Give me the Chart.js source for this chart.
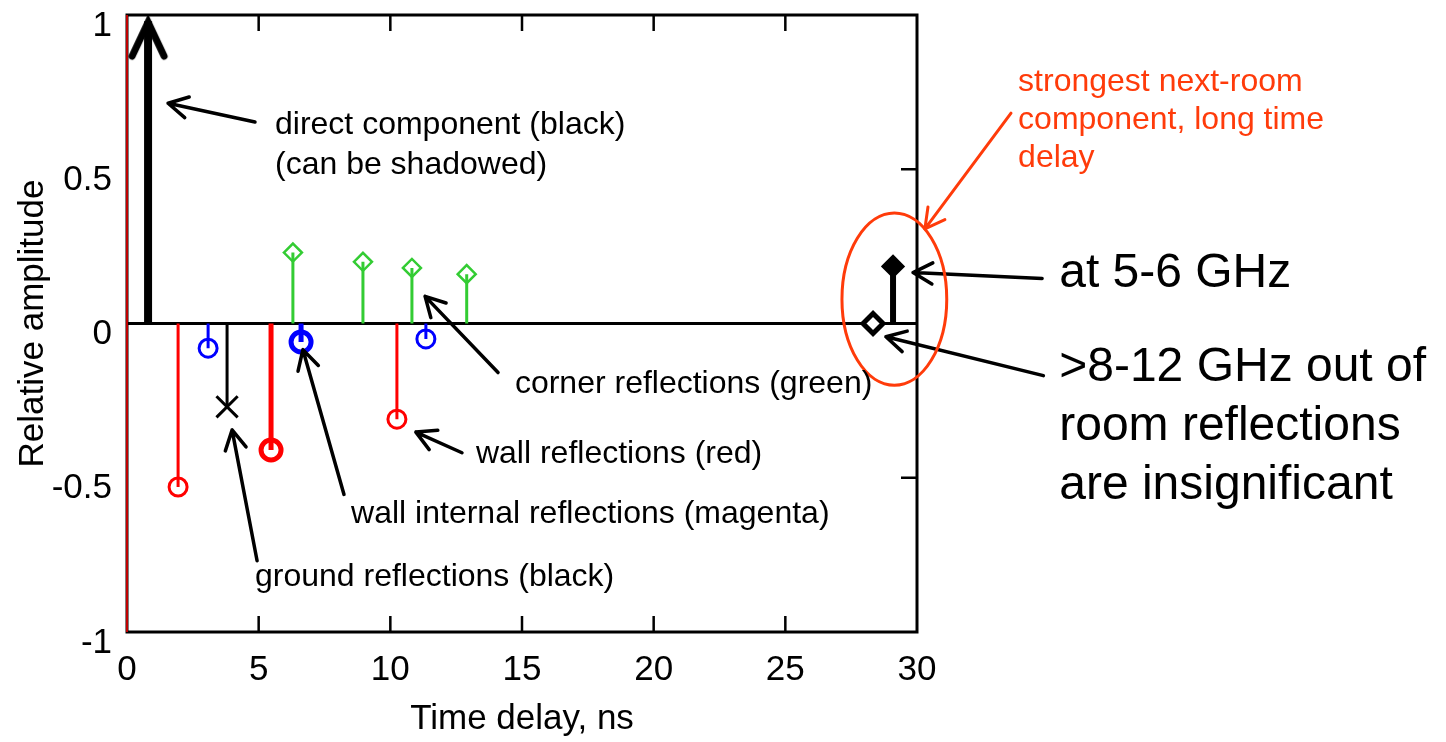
<!DOCTYPE html>
<html>
<head>
<meta charset="utf-8">
<script src="https://cdn.jsdelivr.net/npm/chart.js@4.4.1/dist/chart.umd.min.js"></script>
<style>
  html, body { margin: 0; background: #fff; }
  #wrap { width: 1446px; height: 742px; }
</style>
</head>
<body>
<div id="wrap"><canvas id="grafica"></canvas></div>
<script>
// tick values and labels
const xTicks = [0, 5, 10, 15, 20, 25, 30];
const yTicks = [-1, -0.5, 0, 0.5, 1];
const yTickLabels = ['-1', '-0.5', '0', '0.5', '1'];

// impulse response components (time delay ns, relative amplitude)
const directX = [0.8];
const directY = [0.98];
const wallX = [1.94, 10.25];
const wallY = [-0.53, -0.31];
const wallStrongX = [5.47];
const wallStrongY = [-0.41];
const internalX = [3.08, 11.35];
const internalY = [-0.08, -0.05];
const internalStrongX = [6.61];
const internalStrongY = [-0.06];
const groundX = [3.8];
const groundY = [-0.27];
const cornerX = [6.3, 8.96, 10.82, 12.9];
const cornerY = [0.23, 0.2, 0.18, 0.16];
const nextRoomX = [29.09];
const nextRoomY = [0.185];
const highFreqX = [28.33];
const highFreqY = [0];
const redEdgeX = [0, 0];
const redEdgeY = [-1, 1];

const FONT = "'Liberation Sans', Arial, sans-serif";
const ORANGE = '#FF3B0A';

// stem plot: base point, top point, gap
function stems(xs, ys) {
  const pts = [];
  xs.forEach((x, i) => {
    pts.push({ x: x, y: 0 }, { x: x, y: ys[i] }, { x: x, y: null });
  });
  return pts;
}

function stemSet(xs, ys, color, width, style, radius, markerWidth, fill) {
  return {
    data: stems(xs, ys),
    borderColor: color,
    borderWidth: width,
    pointStyle: style,
    pointRadius: ctx => (ctx.dataIndex % 3 === 1 ? radius : 0),
    pointHoverRadius: ctx => (ctx.dataIndex % 3 === 1 ? radius : 0),
    pointBorderColor: color,
    pointBorderWidth: markerWidth,
    pointBackgroundColor: fill || 'rgba(0,0,0,0)',
    spanGaps: false,
    tension: 0,
    fill: false
  };
}

// open arrow head used as marker on the direct component
const arrowHead = document.createElement('canvas');
arrowHead.width = 44;
arrowHead.height = 90;
(function () {
  const c = arrowHead.getContext('2d');
  c.strokeStyle = '#000';
  c.lineWidth = 7;
  c.lineJoin = 'miter';
  c.lineCap = 'round';
  c.beginPath();
  c.moveTo(6, 80);
  c.lineTo(22, 46);
  c.lineTo(38, 80);
  c.stroke();
})();

// text notes and pointers, placed in data units
const notes = [
  { lines: ['direct component (black)', '(can be shadowed)'], x: 5.62, y: 0.644, size: 32, gap: 40, color: '#000' },
  { lines: ['corner reflections (green)'], x: 14.73, y: -0.197, size: 32, gap: 40, color: '#000' },
  { lines: ['wall reflections (red)'], x: 13.25, y: -0.425, size: 32, gap: 40, color: '#000' },
  { lines: ['wall internal reflections (magenta)'], x: 8.51, y: -0.618, size: 32, gap: 40, color: '#000' },
  { lines: ['ground reflections (black)'], x: 4.86, y: -0.823, size: 32, gap: 40, color: '#000' },
  { lines: ['strongest next-room', 'component, long time', 'delay'], x: 33.84, y: 0.782, size: 32, gap: 38, color: ORANGE },
  { lines: ['at 5-6 GHz'], x: 35.4, y: 0.162, size: 48, gap: 59, color: '#000' },
  { lines: ['>8-12 GHz out of', 'room reflections', 'are insignificant'], x: 35.4, y: -0.143, size: 48, gap: 59, color: '#000' }
];
const pointers = [
  { from: [4.86, 0.653], to: [1.56, 0.714], color: '#000' },
  { from: [14.09, -0.159], to: [11.32, 0.088], color: '#000' },
  { from: [12.72, -0.419], to: [10.97, -0.352], color: '#000' },
  { from: [8.24, -0.554], to: [6.68, -0.085], color: '#000' },
  { from: [4.94, -0.769], to: [3.99, -0.345], color: '#000' },
  { from: [33.57, 0.682], to: [30.30, 0.307], color: ORANGE },
  { from: [34.75, 0.146], to: [29.85, 0.165], color: '#000' },
  { from: [34.8, -0.169], to: [28.82, -0.043], color: '#000' }
];
const ring = { x: 29.14, y: 0.079, rx: 1.99, ry: 0.279 };

const framePlugin = {
  id: 'frame',
  beforeDatasetsDraw(chart) {
    const { ctx, chartArea: a, scales: { x, y } } = chart;
    ctx.save();
    ctx.strokeStyle = '#000';
    ctx.lineWidth = 3;
    ctx.strokeRect(a.left, a.top, a.right - a.left, a.bottom - a.top);
    ctx.lineWidth = 2.5;
    ctx.beginPath();
    xTicks.slice(1, -1).forEach(v => {
      const px = x.getPixelForValue(v);
      ctx.moveTo(px, a.bottom); ctx.lineTo(px, a.bottom - 16);
      ctx.moveTo(px, a.top); ctx.lineTo(px, a.top + 16);
    });
    yTicks.slice(1, -1).forEach(v => {
      if (v === 0) return;
      const py = y.getPixelForValue(v);
      ctx.moveTo(a.right, py); ctx.lineTo(a.right - 16, py);
    });
    ctx.stroke();
    ctx.restore();
  },
  afterDraw(chart) {
    const { ctx, scales: { x, y } } = chart;
    ctx.save();
    pointers.forEach(p => {
      const x1 = x.getPixelForValue(p.from[0]), y1 = y.getPixelForValue(p.from[1]);
      const x2 = x.getPixelForValue(p.to[0]), y2 = y.getPixelForValue(p.to[1]);
      const ang = Math.atan2(y2 - y1, x2 - x1);
      ctx.strokeStyle = p.color;
      ctx.lineWidth = p.color === ORANGE ? 3 : 3.5;
      ctx.lineCap = 'round';
      ctx.lineJoin = 'round';
      ctx.beginPath();
      ctx.moveTo(x1, y1); ctx.lineTo(x2, y2);
      ctx.moveTo(x2 - 22 * Math.cos(ang - 0.5), y2 - 22 * Math.sin(ang - 0.5));
      ctx.lineTo(x2, y2);
      ctx.lineTo(x2 - 22 * Math.cos(ang + 0.5), y2 - 22 * Math.sin(ang + 0.5));
      ctx.stroke();
    });
    const cx = x.getPixelForValue(ring.x), cy = y.getPixelForValue(ring.y);
    const rx = x.getPixelForValue(ring.x + ring.rx) - cx;
    const ry = cy - y.getPixelForValue(ring.y + ring.ry);
    ctx.strokeStyle = ORANGE;
    ctx.lineWidth = 3;
    ctx.beginPath();
    ctx.ellipse(cx, cy, rx, ry, 0, 0, Math.PI * 2);
    ctx.stroke();
    ctx.textBaseline = 'middle';
    ctx.textAlign = 'left';
    notes.forEach(n => {
      ctx.font = n.size + 'px ' + FONT;
      ctx.fillStyle = n.color;
      const px = x.getPixelForValue(n.x), py = y.getPixelForValue(n.y);
      n.lines.forEach((t, i) => ctx.fillText(t, px, py + i * n.gap));
    });
    ctx.restore();
  }
};

function noEdgePadding(s) {
  s.paddingTop = 0;
  s.paddingBottom = 0;
  s.paddingLeft = 0;
  s.paddingRight = 0;
}

Chart.defaults.font.family = FONT;
Chart.defaults.color = '#000';

const ctx = document.getElementById('grafica').getContext('2d');
new Chart(ctx, {
  type: 'line',
  data: {
    datasets: [
      stemSet(directX, directY, '#000', 8, arrowHead, 20, 0),
      stemSet(groundX, groundY, '#000', 3, 'crossRot', 15, 3),
      stemSet(wallX, wallY, '#FF0000', 3, 'circle', 9, 3),
      stemSet(wallStrongX, wallStrongY, '#FF0000', 5, 'circle', 10, 5),
      stemSet(internalX, internalY, '#0000FF', 3, 'circle', 9, 3),
      stemSet(internalStrongX, internalStrongY, '#0000FF', 5, 'circle', 10, 5),
      stemSet(cornerX, cornerY, '#33CC33', 3, 'rectRot', 9, 2.5),
      stemSet(nextRoomX, nextRoomY, '#000', 6, 'rectRot', 10, 3, '#000'),
      {
        data: highFreqX.map((v, i) => ({ x: v, y: highFreqY[i] })),
        showLine: false,
        pointStyle: 'rectRot',
        pointRadius: 10,
        pointHoverRadius: 10,
        pointBorderColor: '#000',
        pointBorderWidth: 5,
        pointBackgroundColor: '#fff'
      },
      {
        data: redEdgeX.map((v, i) => ({ x: v, y: redEdgeY[i] })),
        borderColor: '#FF0000',
        borderWidth: 1.5,
        pointRadius: 0,
        clip: false
      }
    ]
  },
  options: {
    responsive: true,
    maintainAspectRatio: false,
    animation: false,
    events: [],
    layout: { padding: { top: 9, right: 529, left: 0, bottom: 0 } },
    plugins: { legend: { display: false }, tooltip: { enabled: false } },
    scales: {
      x: {
        type: 'linear',
        min: 0,
        max: 30,
        afterBuildTicks: s => { s.ticks = xTicks.map(v => ({ value: v })); },
        ticks: { font: { size: 35 }, padding: 9, maxRotation: 0 },
        grid: { display: false },
        border: { display: false },
        title: { display: true, text: 'Time delay, ns', font: { size: 35 }, padding: { top: 0, bottom: 2 } },
        afterFit: s => { s.height = 110; noEdgePadding(s); }
      },
      y: {
        type: 'linear',
        min: -1,
        max: 1,
        afterBuildTicks: s => { s.ticks = yTicks.map(v => ({ value: v })); },
        ticks: {
          font: { size: 35 },
          padding: 15,
          labelOffset: 11,
          callback: v => yTickLabels[yTicks.indexOf(v)]
        },
        grid: {
          drawTicks: false,
          color: c => (c.tick && c.tick.value === 0 ? '#000' : 'rgba(0,0,0,0)'),
          lineWidth: 3
        },
        border: { display: false },
        title: { display: true, text: 'Relative amplitude', font: { size: 35 }, padding: { top: 12, bottom: 0 } },
        afterFit: s => { s.width = 127; noEdgePadding(s); }
      }
    }
  },
  plugins: [framePlugin]
});
</script>
</body>
</html>
